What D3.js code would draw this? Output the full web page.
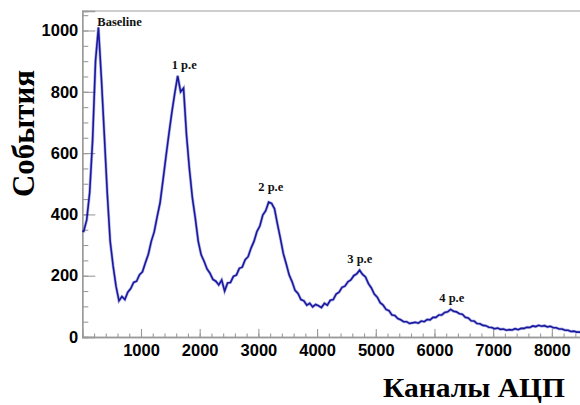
<!DOCTYPE html>
<html><head><meta charset="utf-8">
<script src="https://cdn.jsdelivr.net/npm/d3@7"></script>
<style>html,body{margin:0;padding:0;background:#fff;}svg{display:block;}</style>
</head><body>
<svg id="c" width="580" height="405"></svg>
<script>
// Histogram bin starts (channels), bin width 50
const binStarts = d3.range(0, 8500, 50);
// Counts per bin
const counts = [
 345,382,470,640,900,1010,845,660,470,312, // 0-450
 232,165,118,132,122,146,158,178,182,203, // 500-950
 213,242,270,312,343,392,438,512,588,662, // 1000-1450
 732,795,852,800,812,660,548,455,388,312, // 1500-1950
 268,247,222,208,188,182,170,186,150,176, // 2000-2450
 178,198,202,224,228,252,262,290,312,344, // 2500-2950
 362,398,412,440,436,418,368,322,272,238, // 3000-3450
 202,180,152,142,122,118,104,110,98,106,  // 3500-3950
 102,96,110,104,120,122,140,146,162,166,  // 4000-4450
 180,186,200,206,218,204,196,174,160,140, // 4500-4950
 130,112,104,90,86,72,70,60,56,50,        // 5000-5450
 50,44,46,48,45,52,50,57,56,64,           // 5500-5950
 64,72,72,80,82,90,84,82,76,74,           // 6000-6450
 64,62,53,52,44,43,38,37,32,31,           // 6500-6950
 27,29,25,26,22,24,23,27,24,28,           // 7000-7450
 28,32,31,36,34,38,35,37,33,35,           // 7500-7950
 30,30,26,26,22,22,18,19,16,16            // 8000-8450
];
const xMajor = [1000,2000,3000,4000,5000,6000,7000,8000];
const yMajor = [0,200,400,600,800,1000];
const peakLabels = ["Baseline","1 p.e","2 p.e","3 p.e","4 p.e"];
const xTitle = "Каналы АЦП";
const yTitle = "События";

const svg = d3.select("#c");
const x = d3.scaleLinear().domain([0,8500]).range([82.3,581.2]);
const y = d3.scaleLinear().domain([0,1063.6]).range([337,11]);

// top frame
svg.append("line").attr("x1",82).attr("x2",580).attr("y1",11).attr("y2",11)
  .attr("stroke","#bdbdbd").attr("stroke-width",1.6);

const axisColor = "#9a9a9a";
function styleAxis(g){
  g.select(".domain").attr("stroke",axisColor).attr("stroke-width",1.3);
  g.selectAll(".tick line").attr("stroke",axisColor).attr("stroke-width",1.1);
  g.selectAll("text").attr("fill","#000").attr("font-family","Liberation Sans, Arial, sans-serif")
    .attr("font-weight","bold").attr("font-size","16.5px");
}
svg.append("g").attr("transform","translate(82.3,0)")
  .call(d3.axisLeft(y).tickValues(d3.range(0,1051,50)).tickSize(-6).tickFormat(""))
  .call(styleAxis);
svg.append("g").attr("transform","translate(82.3,0)")
  .call(d3.axisLeft(y).tickValues(yMajor).tickSize(-13).tickPadding(4).tickFormat(d3.format("d")))
  .call(styleAxis);
svg.append("g").attr("transform","translate(0,337)")
  .call(d3.axisBottom(x).tickValues(d3.range(0,8501,200)).tickSize(-3.5).tickFormat(""))
  .call(styleAxis);
svg.append("g").attr("transform","translate(0,337)")
  .call(d3.axisBottom(x).tickValues(xMajor).tickSize(-8).tickPadding(7).tickFormat(d3.format("d")))
  .call(styleAxis);

// histogram drawn through bin centres
const pts = binStarts.map((b,i)=>[b+25,counts[i]]);
pts.unshift([0,counts[0]]);
pts.push([8500,counts[counts.length-1]]);
const line = d3.line().x(d=>x(d[0])).y(d=>y(d[1])).curve(d3.curveLinear);
svg.append("path").datum(pts).attr("d",line).attr("fill","none")
  .attr("stroke","#2a2ab0").attr("stroke-opacity",0.35).attr("stroke-width",3);
svg.append("path").datum(pts).attr("d",line).attr("fill","none")
  .attr("stroke","#1818a0").attr("stroke-width",1.6);

// peak labels
const labelPos = [[97.3,25.7],[171.7,69],[258.3,191],[347.3,263.3],[439.3,301.7]];
peakLabels.forEach((t,i)=>{
  svg.append("text").attr("x",labelPos[i][0]).attr("y",labelPos[i][1])
    .attr("font-family","Liberation Serif, Times New Roman, serif").attr("font-weight","bold")
    .attr("font-size","12.5px").attr("fill","#111").text(t);
});

// titles
svg.append("text").attr("x",383).attr("y",397)
  .attr("font-family","Liberation Serif, Times New Roman, serif").attr("font-weight","bold")
  .attr("font-size","28px").attr("fill","#000")
  .attr("textLength",182).attr("lengthAdjust","spacingAndGlyphs").text(xTitle);
svg.append("text").attr("transform","translate(34,197) rotate(-90)")
  .attr("font-family","Liberation Serif, Times New Roman, serif").attr("font-weight","bold")
  .attr("font-size","31px").attr("fill","#000")
  .attr("textLength",127).attr("lengthAdjust","spacingAndGlyphs").text(yTitle);
</script>
</body></html>
